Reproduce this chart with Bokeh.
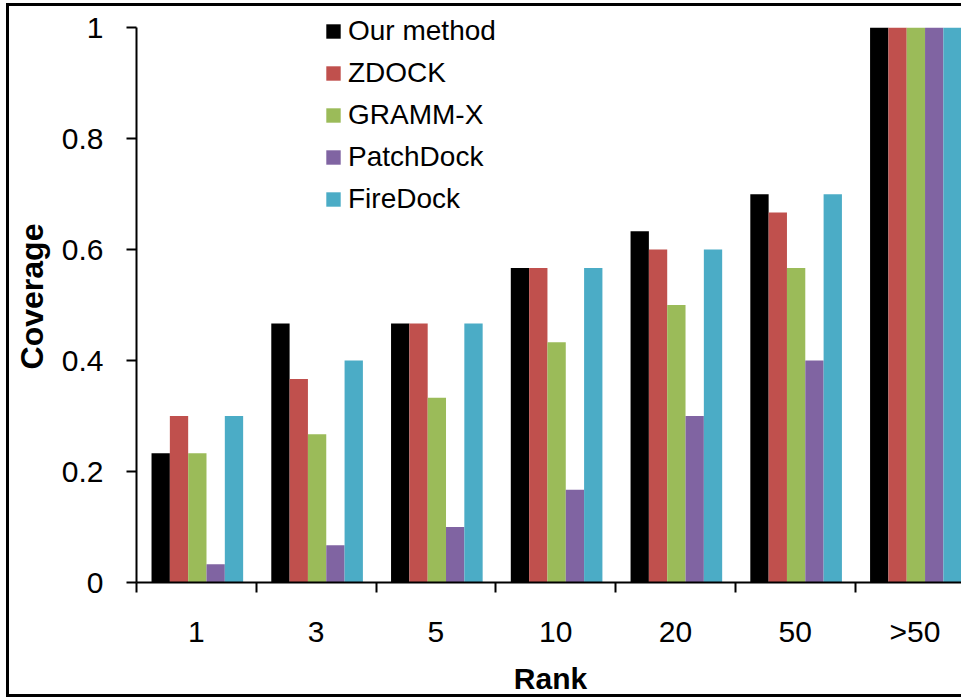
from bokeh.plotting import figure
from bokeh.models import (ColumnDataSource, FixedTicker, Legend, LegendItem,
                          Range1d)
from bokeh.transform import dodge
from bokeh.embed import file_html
from bokeh.resources import INLINE

# ---- data ----
ranks = ["1", "3", "5", "10", "20", "50", ">50"]
our_method = [0.233, 0.467, 0.467, 0.567, 0.633, 0.700, 1.0]
zdock = [0.300, 0.367, 0.467, 0.567, 0.600, 0.667, 1.0]
gramm_x = [0.233, 0.267, 0.333, 0.433, 0.500, 0.567, 1.0]
patchdock = [0.033, 0.067, 0.100, 0.167, 0.300, 0.400, 1.0]
firedock = [0.300, 0.400, 0.467, 0.567, 0.600, 0.700, 1.0]
series_names = ["Our method", "ZDOCK", "GRAMM-X", "PatchDock", "FireDock"]
y_ticks = [0, 0.2, 0.4, 0.6, 0.8, 1]
y_tick_labels = ["0", "0.2", "0.4", "0.6", "0.8", "1"]

colors = ["#000000", "#C0504D", "#9BBB59", "#8064A2", "#4BACC6"]
FONT = "Liberation Sans"

centers = [i + 0.5 for i in range(len(ranks))]
src = ColumnDataSource(dict(x=centers, s0=our_method, s1=zdock, s2=gramm_x,
                            s3=patchdock, s4=firedock))

p = figure(width=955, height=694, output_backend="svg", toolbar_location=None,
           x_range=Range1d(0, 6.914), y_range=Range1d(0, 1.031),
           min_border_left=127, min_border_right=0, min_border_top=4,
           min_border_bottom=118)
p.styles = {"margin-left": "6px", "margin-top": "3px",
            "border-left": "3px solid black",
            "border-top": "3px solid black",
            "border-bottom": "3px solid black"}
p.outline_line_color = None
p.xgrid.visible = False
p.ygrid.visible = False
p.background_fill_color = "white"
p.border_fill_color = "white"

bw = 0.153
offsets = [-2 * bw, -bw, 0, bw, 2 * bw]
items = []
for i, (name, col) in enumerate(zip(series_names, colors)):
    r = p.vbar(x=dodge("x", offsets[i] + 0.008, range=p.x_range), top="s%d" % i,
               width=bw, source=src, fill_color=col, line_color=None)
    items.append(LegendItem(label=name, renderers=[r]))

# y axis
ya = p.yaxis[0]
ya.bounds = (0, 1)
ya.ticker = FixedTicker(ticks=y_ticks)
ya.major_label_overrides = {t: s for t, s in zip(y_ticks, y_tick_labels)}
ya.major_tick_out = 10
ya.major_tick_in = 0
ya.minor_tick_out = 0
ya.minor_tick_in = 0
ya.major_tick_line_width = 2
ya.axis_line_width = 2
ya.major_label_standoff = 23
ya.major_label_text_font = FONT
ya.major_label_text_font_size = "30px"
ya.major_label_text_color = "black"
ya.major_label_text_line_height = 1.0
ya.axis_label = "Coverage"
ya.axis_label_text_font = FONT
ya.axis_label_text_font_size = "32px"
ya.axis_label_text_font_style = "bold"
ya.axis_label_text_color = "black"
ya.axis_label_text_line_height = 1.0
ya.axis_label_standoff = 9

# x axis
xa = p.xaxis[0]
xa.ticker = FixedTicker(ticks=centers, minor_ticks=list(range(len(ranks) + 1)))
xa.major_label_overrides = {c: lab for c, lab in zip(centers, ranks)}
xa.major_tick_out = 0
xa.major_tick_in = 0
xa.minor_tick_out = 10
xa.minor_tick_in = 0
xa.minor_tick_line_width = 2
xa.minor_tick_line_color = "black"
xa.axis_line_width = 2
xa.major_label_standoff = 22
xa.major_label_text_font = FONT
xa.major_label_text_font_size = "30px"
xa.major_label_text_color = "black"
xa.major_label_text_line_height = 1.0
xa.axis_label = "Rank"
xa.axis_label_text_font = FONT
xa.axis_label_text_font_size = "30px"
xa.axis_label_text_font_style = "bold"
xa.axis_label_text_color = "black"
xa.axis_label_text_line_height = 1.0
xa.axis_label_standoff = 11

legend = Legend(items=items, location=(188, 367), orientation="vertical",
                padding=0, margin=0, spacing=10, label_standoff=6,
                glyph_width=18, glyph_height=18, label_height=32,
                label_text_font=FONT, label_text_font_size="28px",
                label_text_color="black",
                border_line_color=None, background_fill_alpha=0)
p.add_layout(legend, "center")

open("out.html", "w").write(file_html(p, INLINE))
